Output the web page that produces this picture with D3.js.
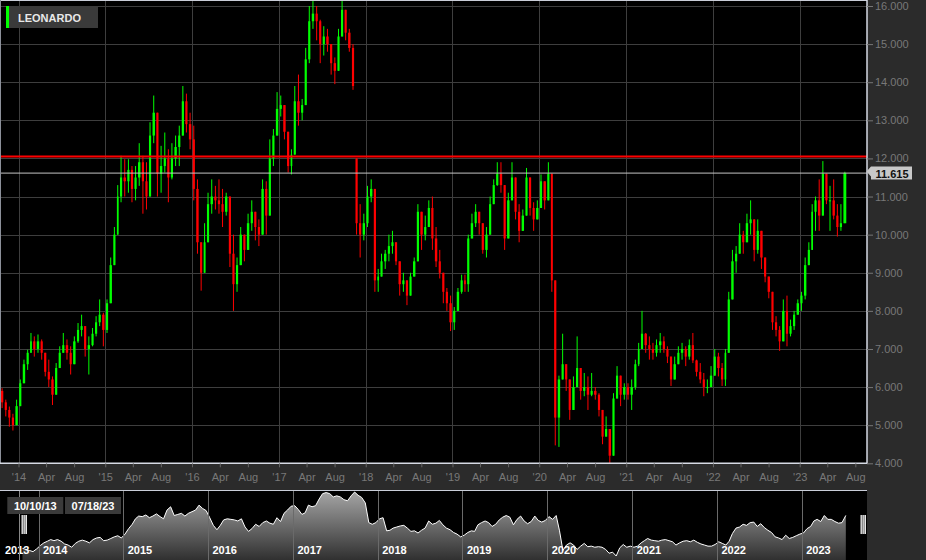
<!DOCTYPE html>
<html><head><meta charset="utf-8">
<script src="https://cdn.jsdelivr.net/npm/d3@7"></script>
<style>html,body{margin:0;padding:0;background:#2b2b2b;overflow:hidden}
text{font-family:"Liberation Sans",Arial,sans-serif}</style>
</head><body><svg id="c" width="926" height="560"></svg>
<script>
// ---------------- data (semi-monthly OHLC) ----------------
const seriesName = "LEONARDO";
const firstBarDate = "2013-10-16";          // bars on the 1st and 16th of each month
const rangeLabels = ["10/10/13", "07/18/23"];
const lastPrice = 11.615;
const resistanceLevel = 12.05;
const yTicks = [4,5,6,7,8,9,10,11,12,13,14,15,16];
const xTickYears = [2014,2015,2016,2017,2018,2019,2020,2021,2022,2023];
const xTickMonths = ["Apr","Aug"];
const navYears = [2013,2014,2015,2016,2017,2018,2019,2020,2021,2022,2023];
const gapOpens = {"2013-10-16": 5.9, "2017-11-16": 12.0};

const high = [
  5.97,5.67,5.49,5.3,5.67,
  6.2,6.72,6.98,7.42,7.33,7.38,7.25,6.76,6.72,6.28,6.63,7.07,7.42,7.25,7.07,7.33,7.68,7.9,7.42,7.33,7.55,7.86,8.3,7.95,
  8.3,9.4,10.2,11.3,12.07,11.98,11.98,11.8,11.8,12.4,12.07,11.9,12.95,13.65,12.77,12.33,12.68,12.24,12.4,12.6,12.86,13.9,13.7,13.2,
  12.86,11.45,9.8,10.3,11.1,11.45,11.28,11.45,11.2,11.1,11.0,10.0,9.4,10.2,10.0,10.55,10.9,10.55,10.4,11.45,11.4,12.5,12.77,13.74,
  13.65,13.2,12.68,12.24,13.9,14.2,13.56,14.9,16.0,16.17,16.0,15.64,15.47,15.4,15.0,14.65,15.4,16.17,15.9,15.4,15.0,12.0,10.8,10.55,
  11.28,11.45,11.2,9.1,9.5,9.6,10.0,10.1,9.8,9.3,9.0,8.8,9.0,9.4,10.8,10.6,10.5,10.9,11.0,10.2,9.6,9.0,8.6,8.4,
  8.1,8.6,8.95,8.95,10.0,10.55,10.8,10.6,10.3,10.2,11.0,11.45,11.9,11.9,11.3,11.1,11.9,11.5,10.8,10.66,11.75,11.5,10.85,10.9,
  11.58,11.4,11.9,11.6,8.8,6.3,7.4,6.6,6.2,6.28,7.33,6.5,6.37,6.28,6.37,6.0,5.84,5.4,5.23,4.9,5.84,6.55,6.3,6.1,
  6.1,6.2,6.72,7.16,8.0,7.42,7.33,7.16,7.25,7.42,7.33,7.07,6.8,6.8,7.07,7.16,7.07,7.25,7.42,6.72,6.63,6.37,6.2,6.55,
  7.0,6.9,6.63,7.0,8.5,9.6,9.7,10.3,10.1,10.55,10.9,10.4,10.4,10.1,9.4,8.9,8.5,7.86,7.6,8.3,8.4,7.77,8.0,8.3,
  8.5,9.4,9.8,10.8,11.0,11.45,11.93,11.6,11.28,11.45,10.8,10.8,11.65
];
const low = [
  5.45,5.23,4.96,4.86,5.05,
  5.6,6.2,6.45,6.9,6.8,6.9,6.72,6.28,6.0,5.53,5.93,6.54,6.9,6.72,6.33,6.9,7.16,7.33,6.8,6.33,7.07,7.33,7.6,7.07,
  7.42,8.3,9.3,10.2,10.85,11.0,11.1,10.85,10.9,11.28,10.55,10.66,11.45,12.4,11.0,11.1,11.63,10.85,11.45,11.8,11.8,12.86,12.68,12.24,
  10.9,9.5,8.53,9.0,9.8,10.55,10.66,10.55,10.2,10.5,9.15,8.0,8.5,9.3,9.3,9.85,10.1,9.85,9.7,10.0,10.0,10.5,11.8,12.6,
  13.1,12.5,11.63,11.58,12.1,12.86,13.0,13.4,14.5,15.4,15.1,14.5,14.7,14.8,14.2,13.95,14.3,15.2,15.1,14.8,13.8,10.0,9.4,9.85,
  10.2,10.85,8.5,8.5,8.9,9.1,9.3,9.5,9.2,8.4,8.5,8.15,8.4,8.9,9.3,9.6,9.85,10.2,9.6,9.15,8.85,8.2,8.0,7.47,
  7.5,8.0,8.45,8.5,8.5,9.9,10.2,10.0,9.5,9.4,10.0,10.8,11.28,11.1,9.6,9.9,10.9,10.4,9.8,10.1,10.5,10.5,10.1,10.4,
  10.7,10.66,10.9,8.5,4.47,4.43,6.2,5.9,5.14,5.4,6.0,5.67,5.76,5.4,5.76,5.67,5.23,4.5,4.7,4.0,4.2,5.7,5.5,5.67,
  5.67,5.4,5.93,6.55,7.0,6.9,6.72,6.72,6.8,6.9,6.9,6.63,6.03,6.2,6.6,6.72,6.55,6.72,6.63,6.28,6.1,5.76,5.84,6.0,
  6.3,6.28,6.03,6.03,6.9,8.3,9.0,9.5,9.5,9.8,10.0,9.3,9.5,9.1,8.75,8.33,7.5,7.33,6.95,7.2,7.07,7.33,7.5,7.9,
  8.0,8.3,9.2,9.6,10.1,10.1,10.5,10.8,10.1,10.4,9.95,10.1,10.3
];
const close = [
  5.6,5.4,5.2,5.0,5.5,
  6.1,6.6,6.9,7.2,7.0,7.2,6.9,6.4,6.2,5.8,6.5,6.9,7.1,6.9,6.6,7.2,7.5,7.6,7.0,7.1,7.4,7.7,7.9,7.5,
  8.2,9.2,10.0,11.0,11.5,11.4,11.7,11.2,11.5,11.9,11.4,11.0,12.6,13.2,11.6,11.8,12.0,11.5,12.0,12.3,12.6,13.5,12.9,12.5,
  11.2,9.8,9.0,9.8,10.8,11.0,10.9,10.8,10.6,11.0,9.5,8.7,9.2,10.0,9.6,10.3,10.6,10.2,10.0,11.2,10.5,12.0,12.6,13.3,
  13.4,12.7,11.8,12.1,13.5,13.2,13.4,14.6,15.6,15.8,15.6,15.0,15.2,15.0,14.5,14.3,15.2,15.9,15.3,14.9,13.9,10.3,10.0,10.3,
  11.0,11.2,8.8,8.9,9.3,9.5,9.7,9.8,9.3,8.7,8.8,8.4,8.9,9.3,10.6,10.0,10.2,10.7,9.9,9.3,9.0,8.5,8.2,7.7,
  8.0,8.5,8.8,8.7,9.9,10.3,10.6,10.3,9.6,10.0,10.8,11.3,11.6,11.3,9.9,10.9,11.5,10.6,10.1,10.5,11.5,10.7,10.4,10.7,
  11.4,10.9,11.6,8.8,5.2,6.2,6.6,6.2,5.4,6.0,6.5,5.9,6.0,5.8,5.9,5.8,5.4,4.7,4.9,4.2,5.7,6.3,5.8,6.0,
  5.8,6.0,6.6,7.0,7.4,7.1,7.0,6.9,7.1,7.2,7.0,6.8,6.2,6.6,6.9,7.0,6.8,7.1,6.7,6.4,6.2,6.0,6.0,6.3,
  6.8,6.5,6.2,6.9,8.3,9.3,9.5,10.0,9.8,10.3,10.4,9.6,10.1,9.4,8.9,8.5,7.7,7.5,7.2,8.0,7.4,7.6,7.9,8.2,
  8.4,9.2,9.6,10.6,10.9,10.5,11.6,10.9,10.9,10.5,10.2,10.3,11.615
];

// ---------------- build bars ----------------
const fmt = d3.timeFormat("%Y-%m-%d");
const n = Math.min(high.length, low.length, close.length);
const dates = [];
{ let d = d3.timeParse("%Y-%m-%d")(firstBarDate);
  for (let i = 0; i <= n; i++) {
    dates.push(d);
    d = d.getDate() === 1 ? new Date(d.getFullYear(), d.getMonth(), 16) : new Date(d.getFullYear(), d.getMonth() + 1, 1);
  } }
const bars = d3.range(n).map(i => {
  const key = fmt(dates[i]);
  const o = gapOpens[key] !== undefined ? gapOpens[key] : close[i - 1];
  return {d0: dates[i], d1: i === n - 1 ? new Date(2023, 6, 19) : dates[i + 1], o, h: high[i], l: low[i], c: close[i]};
});

// ---------------- layout ----------------
const W = 926, H = 560, plotR = 867, plotB = 463.3;
const svg = d3.select("#c");
svg.append("rect").attr("width", W).attr("height", H).attr("fill", "#2b2b2b");

const x = d3.scaleTime().domain([new Date(2014, 0, 1), new Date(2023, 0, 1)]).range([18.5, 18.5 + 9 * 86.8]);
const y = d3.scaleLinear().domain([4, 16]).range([plotB, 6]);

const defs = svg.append("defs");
defs.append("clipPath").attr("id", "clipMain").append("rect").attr("x", 0).attr("y", 0).attr("width", plotR).attr("height", plotB);
defs.append("clipPath").attr("id", "clipNav").append("rect").attr("x", 0).attr("y", 491).attr("width", plotR).attr("height", 69);
const grad = defs.append("linearGradient").attr("id", "navGrad").attr("gradientUnits", "userSpaceOnUse")
  .attr("x1", 0).attr("x2", 0).attr("y1", 491).attr("y2", 560);
grad.append("stop").attr("offset", 0).attr("stop-color", "#a6a6a6");
grad.append("stop").attr("offset", 1).attr("stop-color", "#303030");

// plot background
svg.append("rect").attr("x", 0).attr("y", 0).attr("width", plotR).attr("height", plotB).attr("fill", "#000");

// grid
const grid = svg.append("g");
grid.selectAll(".hg").data(yTicks).join("line")
  .attr("x1", 0).attr("x2", plotR).attr("y1", d => Math.round(y(d)) + 0.5).attr("y2", d => Math.round(y(d)) + 0.5)
  .attr("stroke", "#3e3e3e").attr("stroke-width", 1);
grid.selectAll(".vg").data(xTickYears).join("line")
  .attr("x1", d => Math.round(x(new Date(d, 0, 1))) + 0.5).attr("x2", d => Math.round(x(new Date(d, 0, 1))) + 0.5)
  .attr("y1", 0).attr("y2", plotB).attr("stroke", "#3e3e3e").attr("stroke-width", 1);

// candles
const cg = svg.append("g").attr("clip-path", "url(#clipMain)");
const up = "#00ff00", dn = "#ff0000";
cg.selectAll(".wick").data(bars).join("line")
  .attr("x1", b => (x(b.d0) + x(b.d1)) / 2).attr("x2", b => (x(b.d0) + x(b.d1)) / 2)
  .attr("y1", b => y(Math.max(b.h, b.o, b.c))).attr("y2", b => y(Math.min(b.l, b.o, b.c)))
  .attr("stroke", b => b.c >= b.o ? up : dn).attr("stroke-width", 1);
cg.selectAll(".body").data(bars).join("rect")
  .attr("x", b => x(b.d0) + 0.7).attr("width", b => Math.max(1, x(b.d1) - x(b.d0) - 1.4))
  .attr("y", b => y(Math.max(b.o, b.c)))
  .attr("height", b => Math.max(1, Math.abs(y(b.o) - y(b.c))))
  .attr("fill", b => b.c >= b.o ? up : dn);

// level lines
svg.append("line").attr("x1", 0).attr("x2", plotR).attr("y1", y(lastPrice)).attr("y2", y(lastPrice))
  .attr("stroke", "#c4c4c4").attr("stroke-width", 1);
svg.append("line").attr("x1", 0).attr("x2", plotR).attr("y1", y(resistanceLevel)).attr("y2", y(resistanceLevel))
  .attr("stroke", "#ff0000").attr("stroke-width", 2);

// borders
svg.append("line").attr("x1", 0).attr("x2", plotR).attr("y1", 0.5).attr("y2", 0.5).attr("stroke", "#c9cdd8");
svg.append("line").attr("x1", 0.5).attr("x2", 0.5).attr("y1", 0).attr("y2", plotB).attr("stroke", "#8c909a");
svg.append("line").attr("x1", plotR).attr("x2", plotR).attr("y1", 0).attr("y2", plotB + 0.7).attr("stroke", "#d6dae4").attr("stroke-width", 1.5);
svg.append("line").attr("x1", 0).attr("x2", plotR).attr("y1", plotB).attr("y2", plotB).attr("stroke", "#d6dae4").attr("stroke-width", 1.5);

// right axis
const yAxis = d3.axisRight(y).tickValues(yTicks).tickFormat(d3.format(".3f")).tickSize(6).tickPadding(2);
const ya = svg.append("g").attr("transform", `translate(${plotR},0)`).call(yAxis);
ya.select(".domain").remove();
ya.selectAll(".tick line").attr("stroke", "#777");
ya.selectAll(".tick text").attr("fill", "#787878").attr("font-size", 11).attr("font-family", '"Liberation Sans",Arial,sans-serif');

// bottom axis
const monthOffsets = {"Apr": [3, 27], "Aug": [7, 23]};
const tickDates = [], tickLabels = [];
xTickYears.forEach(yr => {
  tickDates.push(new Date(yr, 0, 1)); tickLabels.push("'" + String(yr).slice(2));
  xTickMonths.forEach(m => { tickDates.push(new Date(yr, monthOffsets[m][0], monthOffsets[m][1])); tickLabels.push(m); });
});
const xAxis = d3.axisBottom(x).tickValues(tickDates).tickFormat((d, i) => tickLabels[i]).tickSize(4).tickPadding(6);
const xa = svg.append("g").attr("transform", `translate(0,${plotB})`).call(xAxis);
xa.select(".domain").remove();
xa.selectAll(".tick line").attr("stroke", "#666");
xa.selectAll(".tick text").attr("fill", "#787878").attr("font-size", 11).attr("font-family", '"Liberation Sans",Arial,sans-serif');

// last price label
const ly = y(lastPrice);
svg.append("path").attr("d", `M866.5,${ly} L871,${ly - 5} L912,${ly - 5} L912,${ly + 8} L871,${ly + 8} L871,${ly + 5} Z`)
  .attr("transform", "translate(0,-1.5)").attr("fill", "#c8c8c8");
svg.append("text").attr("x", 892).attr("y", ly + 4.5).attr("text-anchor", "middle")
  .attr("font-size", 11).attr("font-weight", "bold").attr("fill", "#111").text(lastPrice.toFixed(3));

// legend
svg.append("rect").attr("x", 6).attr("y", 6).attr("width", 92).attr("height", 22).attr("fill", "#3a3a3a");
svg.append("rect").attr("x", 6).attr("y", 6).attr("width", 3).attr("height", 22).attr("fill", up);
svg.append("text").attr("x", 18).attr("y", 21.5).attr("font-size", 11).attr("font-weight", "bold").attr("fill", "#e8e8e8").text(seriesName);

// ---------------- navigator ----------------
const navTop = 490;
svg.append("rect").attr("x", 0).attr("y", navTop).attr("width", plotR).attr("height", H - navTop).attr("fill", "#000");
const xN = d3.scaleTime().domain([new Date(2014, 0, 1), new Date(2023, 0, 1)]).range([38.5, 801.7]);
const yN = d3.scaleLinear().domain([d3.min(close), d3.max(close)]).range([556, 492]);
const navPts = bars.map(b => ({t: new Date((+b.d0 + +b.d1) / 2), v: b.c}));
const ng = svg.append("g").attr("clip-path", "url(#clipNav)");
ng.append("path").datum(navPts)
  .attr("d", d3.area().x(p => xN(p.t)).y0(H).y1(p => yN(p.v)))
  .attr("fill", "url(#navGrad)");
ng.append("path").datum(navPts)
  .attr("d", d3.line().x(p => xN(p.t)).y(p => yN(p.v)))
  .attr("fill", "none").attr("stroke", "#fff").attr("stroke-width", 1);
ng.selectAll(".ny").data(navYears.filter(v => v > 2013)).join("line")
  .attr("x1", v => Math.round(xN(new Date(v, 0, 1))) + 0.5).attr("x2", v => Math.round(xN(new Date(v, 0, 1))) + 0.5)
  .attr("y1", navTop).attr("y2", H).attr("stroke", "#6a6a6a");
const selStart = xN(new Date(2013, 9, 10));
svg.append("line").attr("x1", Math.round(selStart) + 0.5).attr("x2", Math.round(selStart) + 0.5)
  .attr("y1", navTop).attr("y2", H).attr("stroke", "#888");
ng.selectAll(".nl").data(navYears).join("text")
  .attr("x", v => Math.max(5, xN(new Date(v, 0, 1)) + 4.5)).attr("y", 554)
  .attr("font-size", 11).attr("font-weight", "bold").attr("fill", "#fff").text(v => v);
svg.append("line").attr("x1", 0).attr("x2", plotR).attr("y1", navTop + 0.5).attr("y2", navTop + 0.5).attr("stroke", "#c9cdd8");

// range labels
const rl = svg.append("g");
[[7.3, rangeLabels[0]], [65, rangeLabels[1]]].forEach(([bx, t]) => {
  rl.append("rect").attr("x", bx).attr("y", 497).attr("width", 56).attr("height", 17).attr("fill", "#3a3a3a");
  rl.append("text").attr("x", bx + 28).attr("y", 509.5).attr("text-anchor", "middle")
    .attr("font-size", 11).attr("font-weight", "bold").attr("fill", "#fff").text(t);
});

// handles
[21.5, 860.5].forEach(hx => {
  svg.append("rect").attr("x", hx).attr("y", 515).attr("width", 5.5).attr("height", 19).attr("fill", "#e6e6e6");
  [hx + 1.8, hx + 3.7].forEach(lx => svg.append("line").attr("x1", lx).attr("x2", lx).attr("y1", 515).attr("y2", 534)
    .attr("stroke", "#555").attr("stroke-width", 0.8));
});
</script></body></html>
